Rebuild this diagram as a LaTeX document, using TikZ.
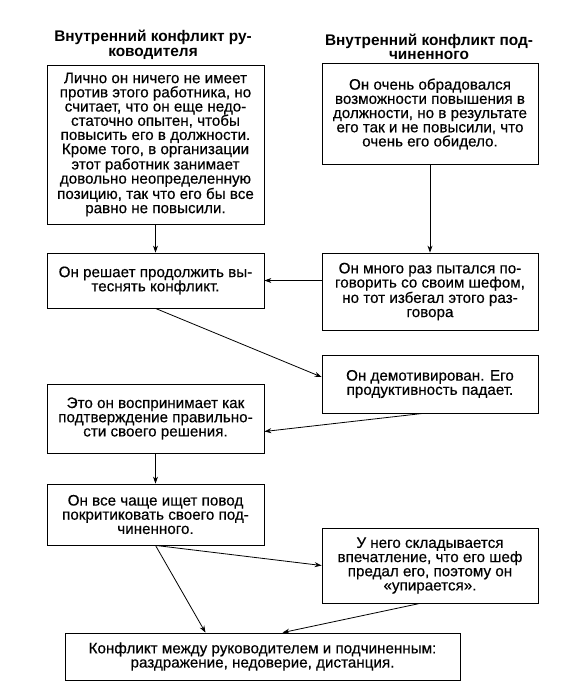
\documentclass[tikz,border=0pt]{standalone}
\usepackage{fontspec}
\setmainfont{Liberation Sans}
\newfontface\boxfont{Liberation Sans}[FakeBold=0.4]
\usetikzlibrary{arrows.meta}
\tikzset{
  box/.style={draw, line width=0.8pt, rectangle, align=center, inner sep=1pt,
    font=\boxfont\fontsize{15.2}{14.2}\selectfont},
  head/.style={align=center, font=\fontsize{15.4}{14.5}\selectfont\bfseries},
}
\begin{document}
\begin{tikzpicture}[x=1pt,y=-1pt,>={Stealth[length=7pt,width=5pt]},line width=0.8pt]
\useasboundingbox (0,0) rectangle (571,697);
\node[head] (t0) at (153,45) {Внутренний конфликт ру-\\ководителя};
\node[head] (t1) at (429,47) {Внутренний конфликт под-\\чиненного};
\node[box,minimum width=217pt,minimum height=159pt] (v0) at (155.5,144.5) {Лично он ничего не имеет\\против этого работника, но\\считает, что он еще недо-\\статочно опытен, чтобы\\повысить его в должности.\\Кроме того, в организации\\этот работник занимает\\довольно неопределенную\\позицию, так что его бы все\\равно не повысили.};
\node[box,minimum width=216pt,minimum height=101pt] (v1) at (430,114) {Он очень обрадовался\\возможности повышения в\\должности, но в результате\\его так и не повысили, что\\очень его обидело.};
\node[box,minimum width=217pt,minimum height=55pt] (v2) at (155.5,280.5) {Он решает продолжить вы-\\теснять конфликт.};
\node[box,minimum width=216pt,minimum height=77pt] (v3) at (430,291.5) {Он много раз пытался по-\\говорить со своим шефом,\\но тот избегал этого раз-\\говора};
\node[box,minimum width=216pt,minimum height=58pt] (v4) at (430,384) {Он демотивирован. Его\\продуктивность падает.};
\node[box,minimum width=217pt,minimum height=69pt] (v5) at (155.5,418.5) {Это он воспринимает как\\подтверждение правильно-\\сти своего решения.};
\node[box,minimum width=217pt,minimum height=61pt] (v6) at (155.5,514.5) {Он все чаще ищет повод\\покритиковать своего под-\\чиненного.};
\node[box,minimum width=216pt,minimum height=75pt] (v7) at (430,565.5) {У него складывается\\впечатление, что его шеф\\предал его, поэтому он\\«упирается».};
\node[box,minimum width=395pt,minimum height=47pt] (v8) at (262.5,656.5) {Конфликт между руководителем и подчиненным:\\раздражение, недоверие, дистанция.};
\draw [->] (v0) -- (v2);
\draw [->] (v1) -- (v3);
\draw [->] (v3.west |- v2.east) -- (v2.east);
\draw [->] (v2.south) -- ([yshift=7pt]v4.west);
\draw [->] ([xshift=-7pt]v4.south) -- ([yshift=-13pt]v5.east);
\draw [->] (v5) -- (v6);
\draw [->] (v6.south) -- (v7.west);
\draw [->] (v6.south) -- ([xshift=-57pt]v8.north);
\draw [->] ([xshift=-10pt]v7.south) -- ([xshift=20pt]v8.north);
\end{tikzpicture}
\end{document}
